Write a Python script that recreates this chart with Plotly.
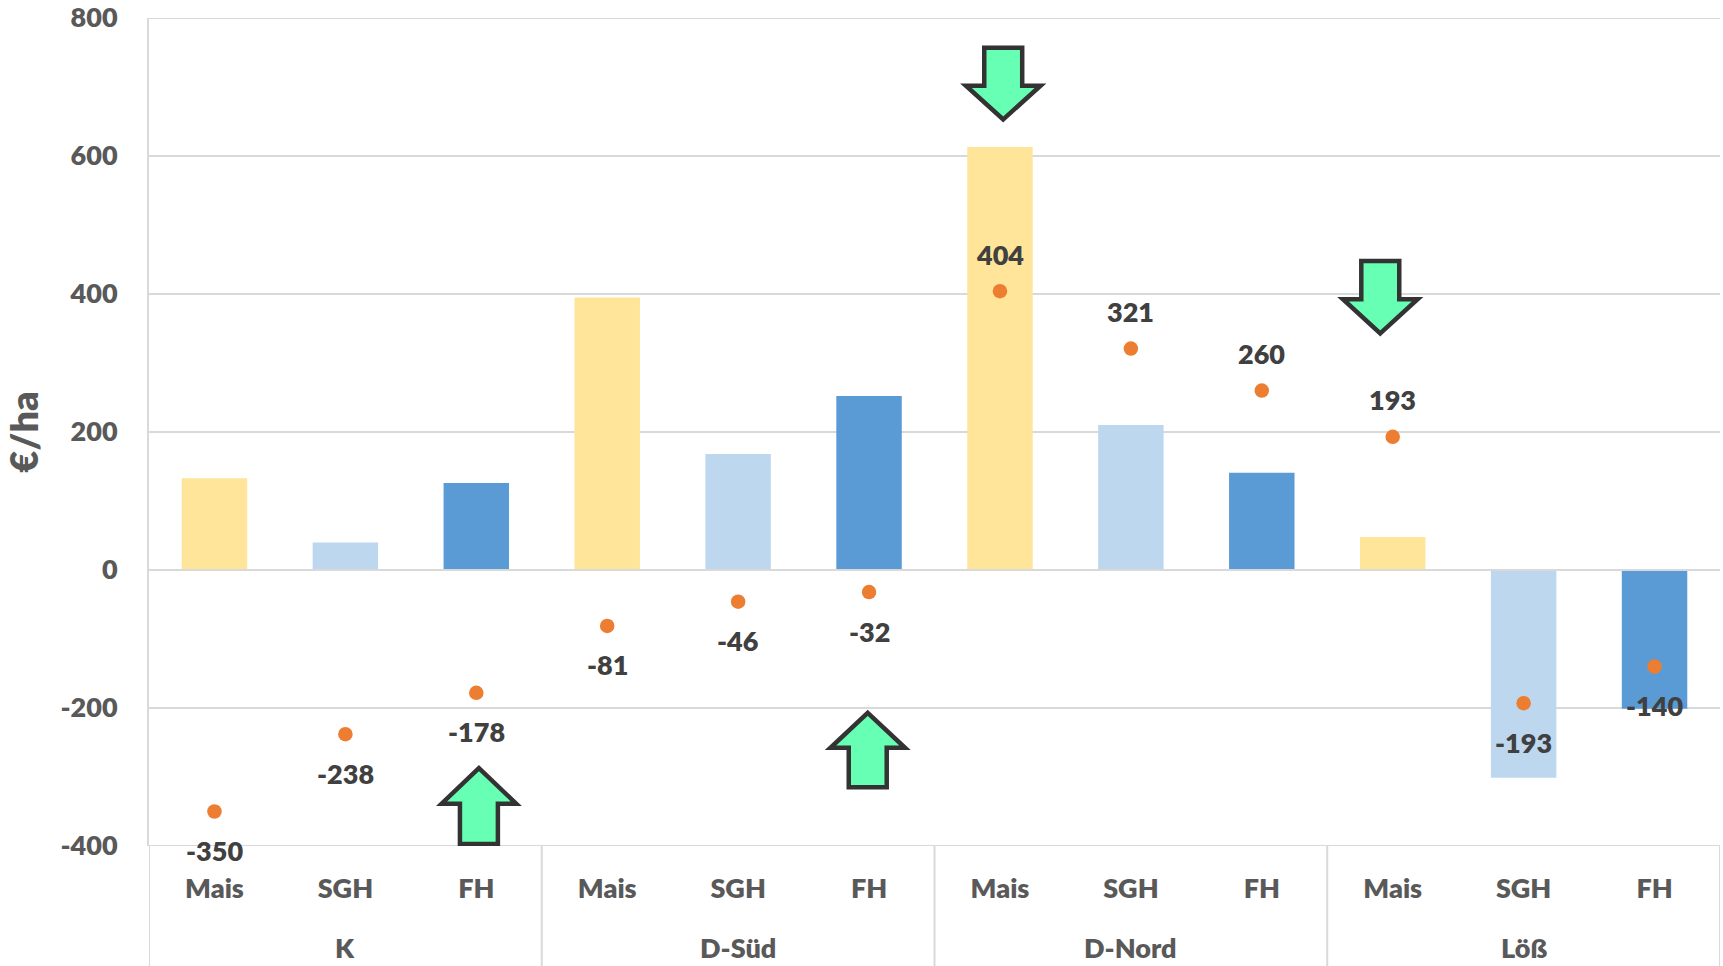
import plotly.graph_objects as go

# Crop types per site and the site groups
crops = ["Mais", "SGH", "FH"] * 4
sites = ["K", "D-Süd", "D-Nord", "Löß"]

# Bar and point series in €/ha
bar_values = [133, 40, 126, 395, 168, 252, 613, 210, 141, 48, -301, -201]
point_values = [-350, -238, -178, -81, -46, -32, 404, 321, 260, 193, -193, -140]

# Colours repeat per crop type
crop_colors = {"Mais": "#FFE599", "SGH": "#BDD7EE", "FH": "#5B9BD5"}

y_ticks = [-400, -200, 0, 200, 400, 600, 800]
y_tick_text = ["-400", "-200", "0", "200", "400", "600", "800"]

# Highlight arrows: category position, tip value, tail value
arrow_x = [2.02, 4.99, 6.025, 8.905]
arrow_tip = [-287, -207, 653, 343]
arrow_tail = [-397, -315, 757, 448]

FONT = "Lato"
WEIGHT = 800
GRID = "#D9D9D9"
positions = list(range(len(crops)))

fig = go.Figure()
fig.add_trace(go.Bar(
    x=positions, y=bar_values, width=0.5,
    marker=dict(color=[crop_colors[c] for c in crops], line_width=0),
    hoverinfo="x+y", showlegend=False,
))
fig.add_trace(go.Scatter(
    x=positions, y=point_values, mode="markers",
    marker=dict(color="#ED7D31", size=14.5, line_width=0),
    showlegend=False,
))

annotations = []
for x, v in zip(positions, point_values):
    annotations.append(dict(
        x=x, y=v, xref="x", yref="y", text=str(v), showarrow=False,
        yshift=37 if v > 0 else -39, yanchor="middle",
        font=dict(family=FONT, size=27, color="#404040", weight=WEIGHT),
    ))
for i, site in enumerate(sites):
    annotations.append(dict(
        x=3 * i + 1, y=-0.123, xref="x", yref="paper", text=site, showarrow=False,
        yanchor="middle",
        font=dict(family=FONT, size=27, color="#595959", weight=WEIGHT),
    ))

# Zero line over the bars, plus the outer frame lines at the range ends
shapes = [dict(type="line", xref="paper", yref="y", x0=0, x1=1, y0=yv, y1=yv,
               line=dict(color=GRID, width=2), layer="above")
          for yv in (0, 800, -400)]
# Group separators below the axis, plus the outer edges
for sx in [-0.5, 2.5, 5.5, 8.5, 11.5]:
    shapes.append(dict(type="line", xref="x", yref="paper", x0=sx, x1=sx, y0=0, y1=-0.145,
                       line=dict(color=GRID, width=2), layer="above"))

# Block arrows pointing from tail to tip
HEAD_W, SHAFT_W = 0.285, 0.145
for ax, tip, tail in zip(arrow_x, arrow_tip, arrow_tail):
    neck = tip + (tail - tip) * 0.47
    path = (f"M {ax} {tip} L {ax + HEAD_W} {neck} L {ax + SHAFT_W} {neck} "
            f"L {ax + SHAFT_W} {tail} L {ax - SHAFT_W} {tail} L {ax - SHAFT_W} {neck} "
            f"L {ax - HEAD_W} {neck} Z")
    shapes.append(dict(type="path", path=path, xref="x", yref="y",
                       fillcolor="#66FFB3", line=dict(color="#333333", width=4.5),
                       layer="above"))

fig.update_layout(
    width=1723, height=966,
    margin=dict(l=149, r=3, t=18, b=120),
    paper_bgcolor="white", plot_bgcolor="white",
    showlegend=False, annotations=annotations, shapes=shapes,
    xaxis=dict(
        automargin=False,
        range=[-0.5, 11.5], tickmode="array", tickvals=positions, ticktext=crops,
        showgrid=False, zeroline=False, ticks="", ticklabelstandoff=24,
        tickfont=dict(family=FONT, size=27, color="#595959", weight=WEIGHT),
    ),
    yaxis=dict(
        automargin=False,
        range=[-400, 800], tickmode="array", tickvals=y_ticks, ticktext=y_tick_text,
        showgrid=True, gridcolor=GRID, gridwidth=2, zeroline=False,
        showline=True, linecolor=GRID, linewidth=2, ticks="", ticklabelstandoff=24,
        tickfont=dict(family=FONT, size=27, color="#595959", weight=WEIGHT),
        title=dict(text="€/ha", standoff=16,
                   font=dict(family=FONT, size=38, color="#595959", weight=WEIGHT)),
    ),
)

fig.write_html("out.html")
